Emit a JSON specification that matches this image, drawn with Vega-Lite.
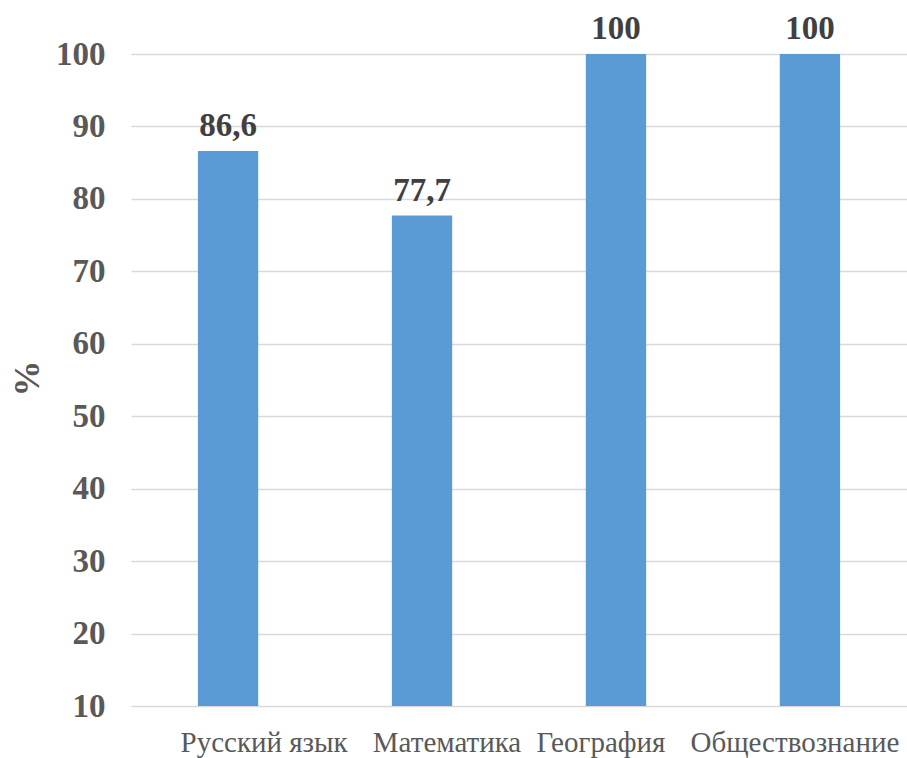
{
  "$schema": "https://vega.github.io/schema/vega-lite/v6.json",
  "width": 776,
  "height": 652,
  "autosize": {"type": "none"},
  "padding": {"left": 131, "top": 54, "right": 0, "bottom": 52},
  "background": "white",
  "config": {"view": {"stroke": null}},
  "data": {
    "values": [
      {"subject": "Русский язык", "value": 86.6, "label": "86,6"},
      {"subject": "Математика", "value": 77.7, "label": "77,7"},
      {"subject": "География", "value": 100, "label": "100"},
      {"subject": "Обществознание", "value": 100, "label": "100"}
    ]
  },
  "encoding": {
    "x": {
      "field": "subject",
      "type": "nominal",
      "sort": null,
      "scale": {"paddingInner": 0.689, "paddingOuter": 0.345},
      "axis": {
        "title": null,
        "labelAngle": 0,
        "domain": false,
        "ticks": false,
        "labelLimit": 0,
        "labelFont": "Liberation Serif",
        "labelFontSize": 29,
        "labelColor": "#595959",
        "labelPadding": 22,
        "labelOffset": {
          "condition": [
            {"test": "datum.value == 'Русский язык'", "value": 36},
            {"test": "datum.value == 'Математика'", "value": 25}
          ],
          "value": -15
        }
      }
    },
    "y": {
      "field": "value",
      "type": "quantitative",
      "scale": {"domain": [10, 100], "zero": false, "nice": false},
      "axis": {
        "values": [10, 20, 30, 40, 50, 60, 70, 80, 90, 100],
        "domain": false,
        "ticks": false,
        "grid": true,
        "gridColor": "#D9D9D9",
        "gridWidth": 1.5,
        "labelFont": "Liberation Serif",
        "labelFontWeight": "bold",
        "labelFontSize": 33,
        "labelColor": "#595959",
        "labelPadding": 26,
        "title": "%",
        "titleFont": "Liberation Serif",
        "titleFontWeight": "bold",
        "titleFontSize": 36,
        "titleColor": "#595959",
        "titleAngle": -90,
        "titleX": -104,
        "titleY": 324,
        "titleAlign": "center",
        "titleBaseline": "middle"
      }
    }
  },
  "layer": [
    {"mark": {"type": "bar", "color": "#5B9BD5"}, "encoding": {"y2": {"datum": 10}}},
    {
      "mark": {
        "type": "text",
        "baseline": "bottom",
        "dy": -8,
        "font": "Liberation Serif",
        "fontWeight": "bold",
        "fontSize": 33,
        "color": "#404040"
      },
      "encoding": {"text": {"field": "label"}}
    }
  ]
}
